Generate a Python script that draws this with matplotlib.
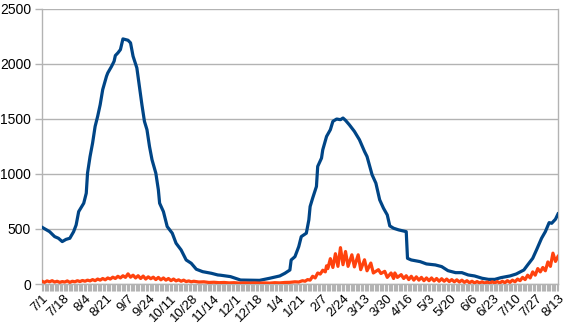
import numpy as np
import matplotlib
matplotlib.use("Agg")
import matplotlib.pyplot as plt

plt.rcParams["font.family"] = ["Liberation Sans", "DejaVu Sans"]

# day 0 = 7/1, day 408 = 8/13 of the next year (daily categories)
N_DAYS = 409
TICK_LABELS = ["7/1", "7/18", "8/4", "8/21", "9/7", "9/24", "10/11", "10/28",
               "11/14", "12/1", "12/18", "1/4", "1/21", "2/7", "2/24", "3/13",
               "3/30", "4/16", "5/3", "5/20", "6/6", "6/23", "7/10", "7/27", "8/13"]
TICK_STEP = 17

# blue series (day, value)
blue_day = [0, 6, 10, 13, 16, 19, 22, 25, 27, 29, 33, 35, 36, 38, 40, 42, 44, 46,
            48, 51, 52, 55, 57, 58, 60, 62, 64, 66, 68, 70, 72, 75, 77, 79, 81, 83,
            85, 87, 90, 92, 93, 96, 99, 103, 106, 110, 114, 118, 122, 127, 134, 139,
            141, 149, 157, 172, 180, 188, 192, 196, 197, 200, 203, 205, 209, 211, 212,
            214, 217, 218, 221, 222, 225, 228, 230, 233, 236, 238, 240, 243, 247, 251,
            255, 257, 261, 264, 267, 270, 273, 275, 278, 282, 288, 289, 292, 299, 304,
            311, 316, 321, 327, 332, 337, 342, 348, 353, 358, 363, 370, 375, 381, 384,
            388, 391, 395, 398, 401, 403, 406, 408]
blue_val = [515, 475, 430, 415, 385, 405, 415, 475, 536, 657, 733, 824, 1006, 1157,
            1279, 1430, 1521, 1627, 1764, 1885, 1915, 1975, 2021, 2073, 2097, 2127,
            2224, 2218, 2212, 2188, 2067, 1961, 1794, 1627, 1476, 1400, 1248, 1127,
            1006, 855, 733, 657, 521, 461, 370, 309, 218, 188, 134, 112, 97, 82, 80,
            67, 36, 33, 52, 73, 97, 127, 218, 248, 339, 430, 461, 582, 703, 779, 885,
            1067, 1142, 1218, 1339, 1400, 1476, 1497, 1491, 1506, 1485, 1445, 1385,
            1309, 1203, 1157, 991, 915, 764, 688, 627, 527, 506, 491, 475, 233, 218,
            203, 182, 173, 158, 121, 103, 103, 82, 73, 52, 42, 42, 58, 73, 91, 127,
            173, 233, 309, 415, 475, 557, 551, 588, 636]

# orange series (day, value)
orange_day = [0, 2, 4, 6, 8, 10, 12, 14, 16, 18, 20, 22, 24, 26, 28, 30, 32, 34, 36,
              38, 40, 42, 44, 46, 48, 50, 52, 54, 56, 58, 60, 62, 64, 66, 68, 70, 72,
              74, 76, 78, 80, 82, 84, 86, 88, 90, 92, 94, 96, 98, 100, 102, 104, 106,
              108, 110, 112, 114, 116, 118, 120, 124, 128, 132, 136, 140, 144, 148,
              152, 156, 160, 164, 168, 172, 176, 180, 184, 188, 192, 196, 200, 203,
              206, 208, 210, 212, 214, 216, 218, 220, 222, 224, 225, 226, 228, 230,
              232, 234, 236, 238, 240, 242, 245, 247, 250, 252, 255, 257, 260, 262,
              266, 268, 271, 273, 276, 278, 279, 281, 284, 286, 288, 290, 292, 294,
              296, 298, 300, 302, 304, 306, 308, 310, 312, 314, 316, 318, 320, 322,
              324, 326, 328, 330, 332, 334, 336, 338, 340, 342, 344, 346, 348, 350,
              352, 354, 356, 358, 360, 362, 364, 366, 368, 370, 372, 374, 376, 378,
              380, 382, 384, 386, 388, 390, 392, 394, 396, 398, 400, 402, 404, 406, 408]
orange_val = [25, 15, 28, 20, 30, 18, 25, 15, 22, 18, 28, 15, 25, 20, 30, 22, 32, 25,
              35, 28, 40, 30, 45, 35, 50, 38, 55, 45, 62, 50, 70, 55, 75, 60, 92, 62,
              80, 55, 75, 50, 72, 45, 65, 48, 62, 40, 60, 38, 55, 35, 50, 30, 45, 28,
              38, 25, 35, 22, 28, 20, 25, 18, 20, 14, 16, 12, 14, 10, 12, 8, 10, 8, 10,
              8, 10, 8, 12, 10, 14, 15, 20, 18, 30, 25, 40, 35, 70, 55, 100, 90, 125,
              110, 165, 140, 230, 150, 275, 160, 330, 175, 295, 160, 265, 155, 265, 130,
              220, 120, 190, 100, 130, 95, 115, 60, 100, 50, 100, 60, 85, 50, 75, 40,
              70, 35, 65, 35, 60, 30, 55, 30, 55, 28, 50, 25, 48, 25, 45, 22, 40, 20,
              38, 18, 35, 15, 30, 12, 25, 10, 22, 10, 20, 8, 18, 8, 20, 10, 22, 10, 25,
              12, 30, 15, 35, 20, 45, 30, 60, 40, 80, 55, 110, 80, 140, 110, 150, 120,
              200, 160, 280, 205, 250]

BLUE = "#004586"
ORANGE = "#ff420e"
GRID = "#b3b3b3"

fig = plt.figure(figsize=(5.65, 3.27), dpi=100)
ax = fig.add_axes([42 / 565, 43 / 327, 516 / 565, 275.5 / 327])

ax.plot(blue_day, blue_val, color=BLUE, lw=2.3, solid_joinstyle="round", zorder=3)
ax.plot(orange_day, orange_val, color=ORANGE, lw=2.3, solid_joinstyle="round", zorder=3)

ax.set_xlim(0, N_DAYS - 1)
ax.set_ylim(0, 2500)
ax.set_yticks(range(0, 2501, 500))
ax.yaxis.grid(True, color=GRID, lw=1)
ax.set_axisbelow(True)

ticks = [i * TICK_STEP for i in range(len(TICK_LABELS))]
ax.set_xticks(ticks)
ax.set_xticklabels(TICK_LABELS, rotation=45, ha="right", va="top",
                   rotation_mode="anchor", fontsize=9.5)
ax.set_xticks(range(N_DAYS), minor=True)
ax.tick_params(axis="x", which="both", length=5, width=0.8, color=GRID, pad=1)
ax.tick_params(axis="y", length=5, width=1, color=GRID, labelsize=10, pad=3)

for side in ["left", "right", "bottom"]:
    ax.spines[side].set_color(GRID)
    ax.spines[side].set_linewidth(1)
ax.spines["top"].set_visible(False)

fig.savefig("out.png", dpi=100)
